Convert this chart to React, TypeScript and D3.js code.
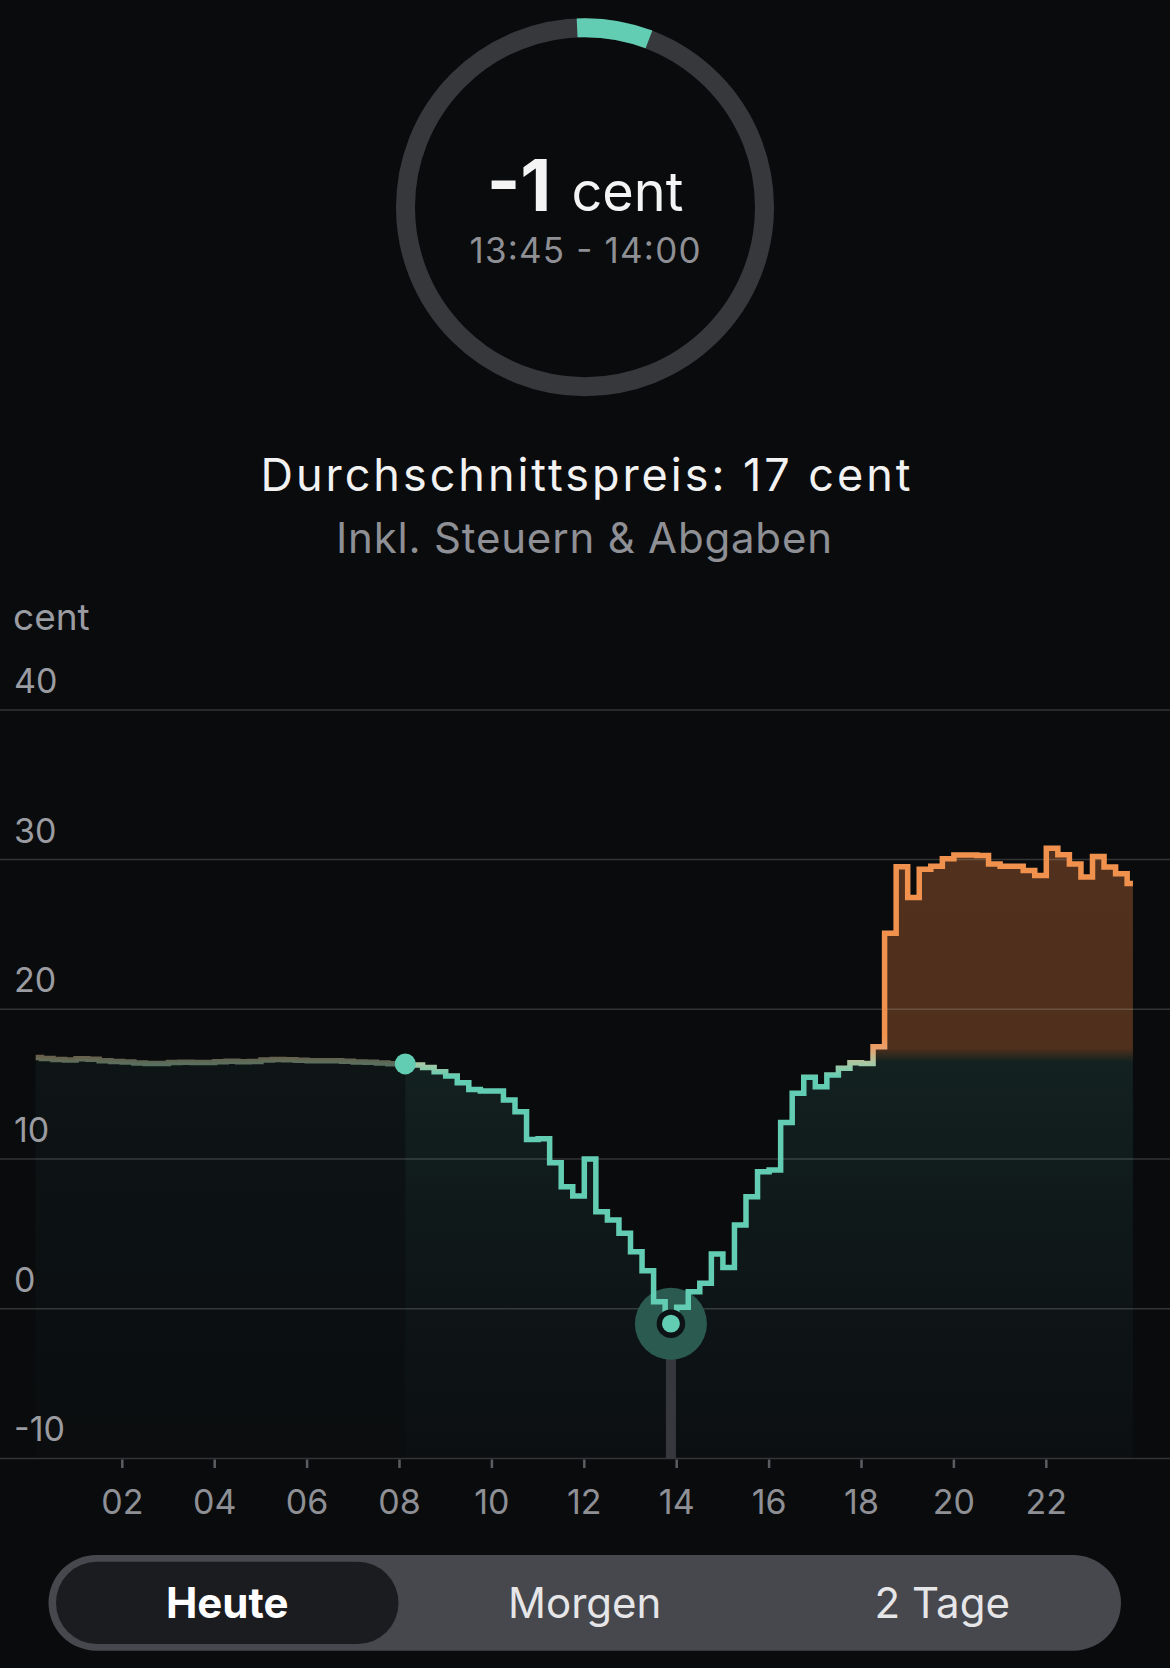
import React from 'react';
import * as d3 from 'd3';

// ---- data (cent per quarter hour, 00:00 .. 23:45) ----
const prices: number[] = [
  16.78, 16.72, 16.65, 16.62, 16.69, 16.66, 16.56, 16.51,
  16.48, 16.42, 16.38, 16.38, 16.45, 16.47, 16.45, 16.45,
  16.5, 16.53, 16.5, 16.52, 16.62, 16.65, 16.63, 16.6,
  16.57, 16.56, 16.56, 16.53, 16.48, 16.47, 16.42, 16.36,
  16.35, 16.28, 16.12, 15.83, 15.54, 15.1, 14.65, 14.54,
  14.54, 13.94, 13.16, 11.31, 11.36, 9.75, 8.15, 7.53,
  10.0, 6.48, 5.93, 5.04, 3.81, 2.54, 0.47, -1.0,
  0.1, 1.14, 1.7, 3.65, 2.76, 5.59, 7.48, 9.15,
  9.26, 12.43, 14.39, 15.46, 14.83, 15.61, 16.06, 16.43,
  16.38, 17.5, 25.08, 29.53, 27.47, 29.36, 29.56, 30.05,
  30.3, 30.3, 30.27, 29.7, 29.55, 29.55, 29.28, 28.93,
  30.75, 30.33, 29.7, 28.84, 30.2, 29.51, 29.06, 28.4,
];
const yTickValues = [-10, 0, 10, 20, 30, 40];
const xTickHours = [2, 4, 6, 8, 10, 12, 14, 16, 18, 20, 22];
const xTickLabels = ['02', '04', '06', '08', '10', '12', '14', '16', '18', '20', '22'];
const nowIndex = 32;
const selectedIndex = 55;
const selectedPriceLabel = '-1';
const selectedUnit = 'cent';
const selectedRange = '13:45 - 14:00';
const averageText = 'Durchschnittspreis: 17 cent';
const subtitleText = 'Inkl. Steuern & Abgaben';
const unitLabel = 'cent';
const tabs = ['Heute', 'Morgen', '2 Tage'];
const activeTab = 0;
const gaugeStartFraction = -0.007;
const gaugeEndFraction = 0.058;

const TEAL = '#62cdb2';
const ORANGE = '#f0924e';
const BG = '#0a0b0d';
const FONT = "Inter, 'Noto Sans', sans-serif";

export default function App() {
  const W = 1170;
  const H = 1668;
  const x = d3.scaleLinear().domain([0, 24]).range([29.9, 1138.7]);
  const y = d3.scaleLinear().domain([-10, 40]).range([1458.4, 709.9]);

  const pts: [number, number][] = prices.map((v, i) => [x(i / 4 + 0.125), y(v)]);
  const lineGen = d3.line<[number, number]>().curve(d3.curveStep);
  const areaGen = d3
    .area<[number, number]>()
    .x((d) => d[0])
    .y0(y(-10))
    .y1((d) => d[1])
    .curve(d3.curveStep);
  const linePath = lineGen(pts) || '';
  const areaPath = areaGen(pts) || '';

  const nowX = x(nowIndex / 4 + 0.125);
  const nowY = y(prices[nowIndex]);
  const selX = x(selectedIndex / 4 + 0.125);
  const selY = y(prices[selectedIndex]);

  // gauge
  const gcx = 585;
  const gcy = 207.2;
  const arcPath =
    d3.arc()({
      innerRadius: 170,
      outerRadius: 189,
      startAngle: Math.PI * 2 * gaugeStartFraction,
      endAngle: Math.PI * 2 * gaugeEndFraction,
      cornerRadius: 9.5,
    } as any) || '';

  // gradients
  const lgTop = 18.2;
  const lgBot = 15.5;
  const lOff = (v: number) => (lgTop - v) / (lgTop - lgBot);
  const fgTop = 31;
  const fgBot = -10;
  const fOff = (v: number) => (fgTop - v) / (fgTop - fgBot);

  const band = d3.scaleBand<number>().domain(tabs.map((_, i) => i)).range([48.5, 1121]);

  return (
    <svg
      width={W}
      height={H}
      style={{ position: 'absolute', left: 0, top: 0, display: 'block' }}
      fontFamily={FONT}
    >
      <defs>
        <linearGradient id="lineGrad" gradientUnits="userSpaceOnUse" x1={0} x2={0} y1={y(lgTop)} y2={y(lgBot)}>
          <stop offset={0} stopColor={ORANGE} />
          <stop offset={lOff(17.4)} stopColor="#e9a06c" />
          <stop offset={lOff(16.4)} stopColor="#a9c8a4" />
          <stop offset={1} stopColor={TEAL} />
        </linearGradient>
        <linearGradient id="fillGrad" gradientUnits="userSpaceOnUse" x1={0} x2={0} y1={y(fgTop)} y2={y(fgBot)}>
          <stop offset={0} stopColor="#51311d" />
          <stop offset={fOff(17.4)} stopColor="#4f301d" />
          <stop offset={fOff(16.5)} stopColor="#132120" />
          <stop offset={fOff(5)} stopColor="#0f1819" />
          <stop offset={1} stopColor="#0c0f11" />
        </linearGradient>
        <clipPath id="pastClip">
          <rect x={0} y={0} width={nowX} height={H} />
        </clipPath>
        <clipPath id="futureClip">
          <rect x={nowX} y={0} width={W - nowX} height={H} />
        </clipPath>
      </defs>

      <rect x={0} y={0} width={W} height={H} fill={BG} />

      {/* gauge */}
      <circle cx={gcx} cy={gcy} r={179.5} fill="none" stroke="#36383c" strokeWidth={19} />
      <path d={arcPath} transform={`translate(${gcx},${gcy})`} fill={TEAL} />
      <text x={gcx} y={210.7} textAnchor="middle" fill="#f4f4f4">
        <tspan fontWeight={700} fontSize={72}>{selectedPriceLabel}</tspan>
        <tspan fontWeight={400} fontSize={54} dx={20}>{selectedUnit}</tspan>
      </text>
      <text x={gcx} y={263.3} textAnchor="middle" fill="#8e9095" fontSize={35} textLength={231} lengthAdjust="spacing">
        {selectedRange}
      </text>

      {/* headline */}
      <text x={585.5} y={491} textAnchor="middle" fill="#f2f2f2" fontSize={45} textLength={650} lengthAdjust="spacing">
        {averageText}
      </text>
      <text x={584} y={553} textAnchor="middle" fill="#8e9095" fontSize={42} textLength={496} lengthAdjust="spacing">
        {subtitleText}
      </text>

      {/* unit label */}
      <text x={13} y={630} fill="#9a9ca1" fontSize={37}>
        {unitLabel}
      </text>

      {/* area fill */}
      <path d={areaPath} fill="url(#fillGrad)" clipPath="url(#pastClip)" opacity={0.45} />
      <path d={areaPath} fill="url(#fillGrad)" clipPath="url(#futureClip)" />

      {/* grid */}
      {yTickValues.map((v) => (
        <g key={v}>
          <line x1={0} x2={W} y1={y(v)} y2={y(v)} stroke="rgba(255,255,255,0.17)" strokeWidth={1.5} />
          <text x={14} y={y(v) - 17} fill="#9a9ca1" fontSize={34}>
            {v}
          </text>
        </g>
      ))}

      {/* x axis ticks */}
      {xTickHours.map((h, i) => (
        <g key={h}>
          <line x1={x(h)} x2={x(h)} y1={1459.5} y2={1468} stroke="#5b5d62" strokeWidth={2.5} />
          <text x={x(h)} y={1514} textAnchor="middle" fill="#8e9095" fontSize={34}>
            {xTickLabels[i]}
          </text>
        </g>
      ))}

      {/* selection marker */}
      <line x1={selX} x2={selX} y1={selY} y2={y(-10)} stroke="#37383d" strokeWidth={10} />
      <circle cx={selX} cy={selY} r={36} fill="#2b5a50" />

      {/* price line */}
      <path d={linePath} fill="none" stroke="url(#lineGrad)" strokeWidth={5.5} clipPath="url(#pastClip)" opacity={0.5} />
      <path d={linePath} fill="none" stroke="url(#lineGrad)" strokeWidth={5.5} clipPath="url(#futureClip)" />

      <circle cx={nowX} cy={nowY} r={10.5} fill={TEAL} />
      <circle cx={selX} cy={selY} r={11.6} fill={TEAL} stroke="#0d1214" strokeWidth={5.3} />

      {/* tabs */}
      <rect x={48.5} y={1555} width={1072.5} height={95.7} rx={47.85} fill="#46484e" />
      <rect
        x={(band(activeTab) || 0) + 7.5}
        y={1561.7}
        width={band.bandwidth() - 15}
        height={82.3}
        rx={41}
        fill="#1b1c1f"
      />
      {tabs.map((t, i) => (
        <text
          key={t}
          x={(band(i) || 0) + band.bandwidth() / 2}
          y={1618.3}
          textAnchor="middle"
          fontSize={42}
          fontWeight={i === activeTab ? 700 : 400}
          fill={i === activeTab ? '#ffffff' : '#e6e6e8'}
        >
          {t}
        </text>
      ))}
    </svg>
  );
}
